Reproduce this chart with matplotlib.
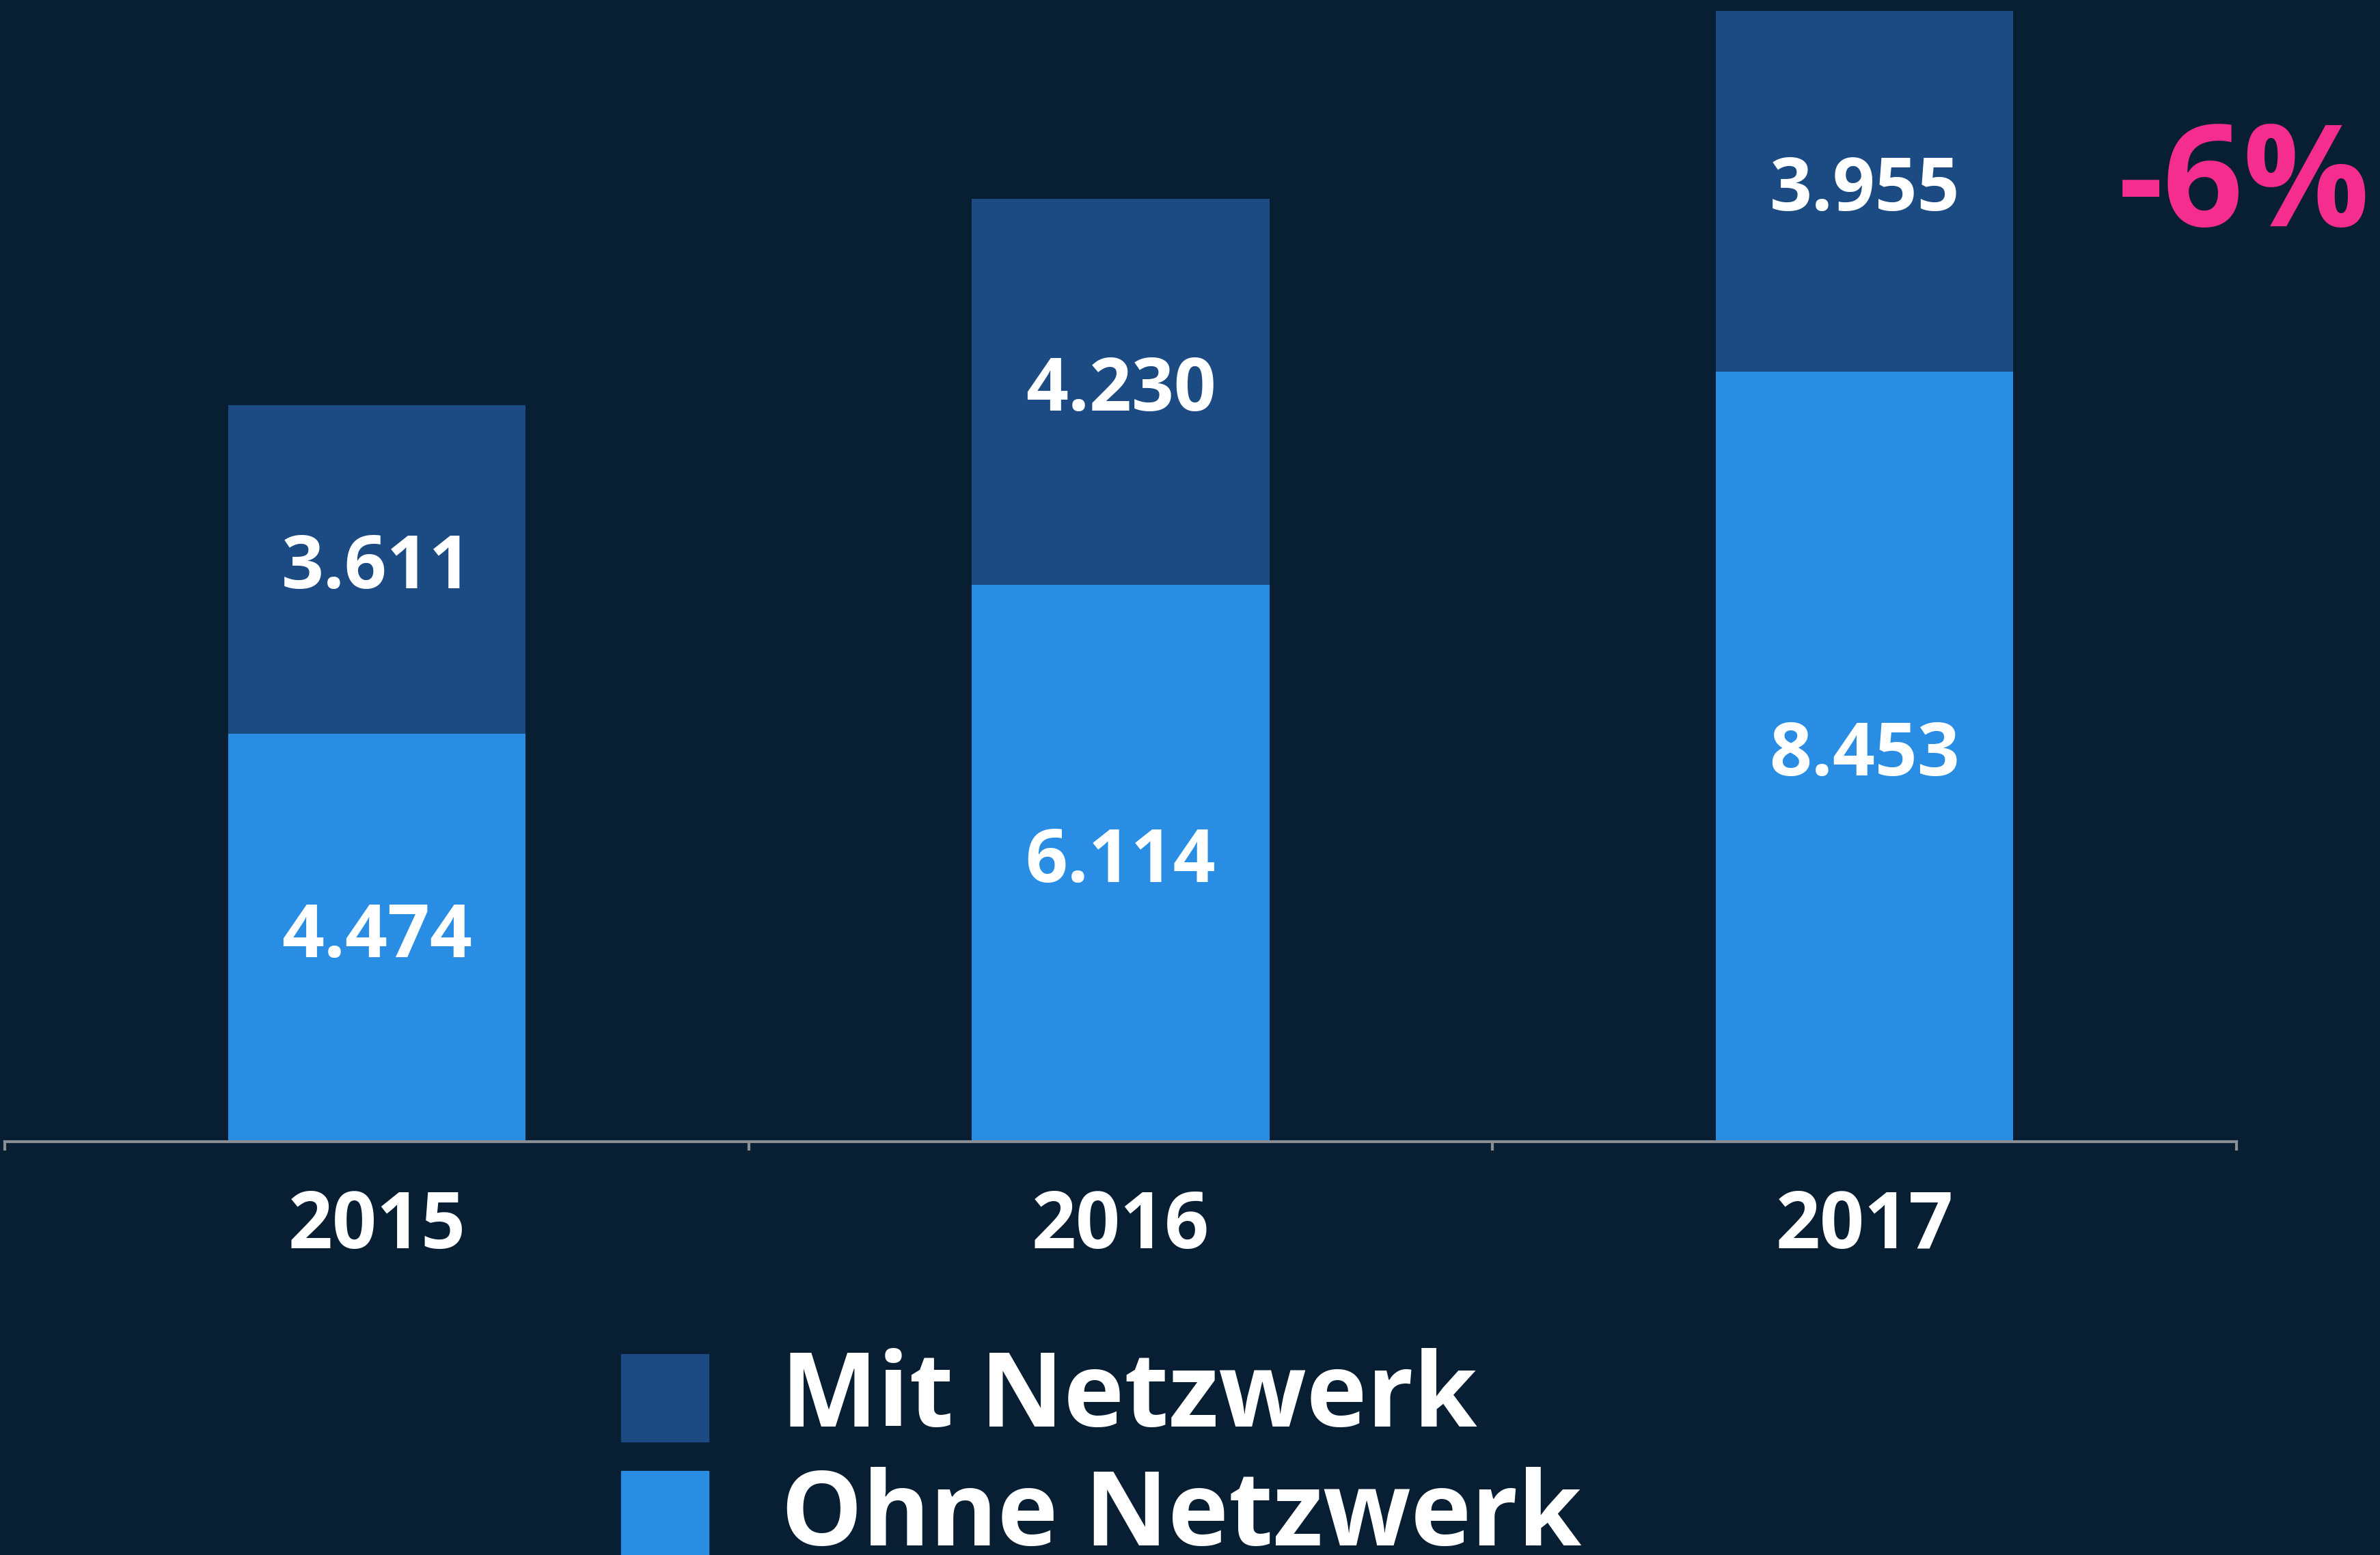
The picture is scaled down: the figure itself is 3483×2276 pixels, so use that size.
import matplotlib
matplotlib.use("Agg")
import matplotlib.pyplot as plt
from matplotlib.patches import Rectangle

years = ["2015", "2016", "2017"]
ohne = [4474, 6114, 8453]
mit = [3611, 4230, 3955]
ohne_labels = ["4.474", "6.114", "8.453"]
mit_labels = ["3.611", "4.230", "3.955"]
series_names = ["Mit Netzwerk", "Ohne Netzwerk"]
change_text = "-6%"

BG = "#081E33"
C_MIT = "#1C4A82"
C_OHNE = "#288DE3"
PINK = "#F52D8F"
FONT = "Open Sans"

W, H = 3483, 2276
fig = plt.figure(figsize=(W / 100, H / 100), dpi=100, facecolor=BG)
ax = fig.add_axes([7 / W, (H - 1671) / H, (3273 - 7) / W, 1671 / H])
ax.set_facecolor(BG)

x = list(range(len(years)))
b1 = ax.bar(x, ohne, width=0.4, color=C_OHNE, zorder=2)
b2 = ax.bar(x, mit, width=0.4, bottom=ohne, color=C_MIT, zorder=2)

for i in x:
    ax.text(i, ohne[i] / 2, ohne_labels[i], ha="center", va="center", color="white",
            fontsize=78, fontweight="bold", family=FONT)
    ax.text(i, ohne[i] + mit[i] / 2, mit_labels[i], ha="center", va="center", color="white",
            fontsize=78, fontweight="bold", family=FONT)

ax.set_xlim(-0.5, 2.5)
ax.set_ylim(0, 1671 / (1655 / 12408))
ax.set_yticks([])
for s in ["left", "right", "top"]:
    ax.spines[s].set_visible(False)
ax.spines["bottom"].set_color("#8A8F96")
ax.spines["bottom"].set_linewidth(3)
ax.set_xticks([-0.5, 0.5, 1.5, 2.5], minor=False)
ax.set_xticklabels([])
ax.tick_params(axis="x", which="major", length=9, width=3, color="#8A8F96")
ax.set_xticks(x, minor=True)
ax.set_xticklabels(years, minor=True)
ax.tick_params(axis="x", which="minor", length=0, pad=50, labelsize=82, labelcolor="white")
for t in ax.get_xticklabels(minor=True):
    t.set_fontweight("bold")
    t.set_family(FONT)

# -6% annotation
fig.text(3284 / W, 1 - 331 / H, change_text, ha="center", va="baseline", color=PINK,
         fontsize=148, fontweight="bold", family=FONT)

# legend (manual)
leg_colors = [C_MIT, C_OHNE]
leg_tops = [1982, 2153]
leg_base = [2088, 2262]
for c, top, base, name in zip(leg_colors, leg_tops, leg_base, series_names):
    fig.add_artist(Rectangle((909 / W, 1 - (top + 128) / H), 128 / W, 128 / H,
                             transform=fig.transFigure, color=c))
    fig.text(1143 / W, 1 - base / H, name, ha="left", va="baseline", color="white",
             fontsize=108, fontweight="bold", family=FONT)

fig.savefig("out.png", dpi=100, facecolor=BG)
